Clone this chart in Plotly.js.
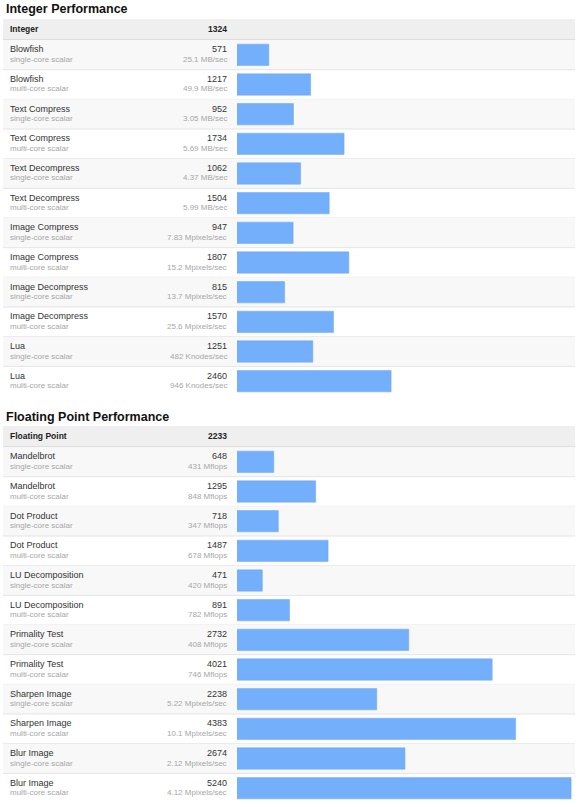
<!DOCTYPE html>
<html>
<head>
<meta charset="utf-8">
<script src="https://cdn.plot.ly/plotly-3.0.1.min.js"></script>
<style>
  html, body { margin: 0; padding: 0; background: #fff; }
  #chart { width: 580px; height: 807px; }
</style>
</head>
<body>
<div id="chart"></div>
<script>
// Benchmark results: two sections of paired single-core / multi-core runs
const intTitle = "Integer Performance";
const intHeader = "Integer";
const intTotal = "1324";
const intNames = ["Blowfish", "Blowfish", "Text Compress", "Text Compress",
  "Text Decompress", "Text Decompress", "Image Compress", "Image Compress",
  "Image Decompress", "Image Decompress", "Lua", "Lua"];
const intModes = ["single-core scalar", "multi-core scalar", "single-core scalar", "multi-core scalar",
  "single-core scalar", "multi-core scalar", "single-core scalar", "multi-core scalar",
  "single-core scalar", "multi-core scalar", "single-core scalar", "multi-core scalar"];
const intScores = [571, 1217, 952, 1734, 1062, 1504, 947, 1807, 815, 1570, 1251, 2460];
const intRates = ["25.1 MB/sec", "49.9 MB/sec", "3.05 MB/sec", "5.69 MB/sec",
  "4.37 MB/sec", "5.99 MB/sec", "7.83 Mpixels/sec", "15.2 Mpixels/sec",
  "13.7 Mpixels/sec", "25.6 Mpixels/sec", "482 Knodes/sec", "946 Knodes/sec"];

const fpTitle = "Floating Point Performance";
const fpHeader = "Floating Point";
const fpTotal = "2233";
const fpNames = ["Mandelbrot", "Mandelbrot", "Dot Product", "Dot Product",
  "LU Decomposition", "LU Decomposition", "Primality Test", "Primality Test",
  "Sharpen Image", "Sharpen Image", "Blur Image", "Blur Image"];
const fpModes = intModes.slice();
const fpScores = [648, 1295, 718, 1487, 471, 891, 2732, 4021, 2238, 4383, 2674, 5240];
const fpRates = ["431 Mflops", "848 Mflops", "347 Mflops", "678 Mflops",
  "420 Mflops", "782 Mflops", "408 Mflops", "746 Mflops",
  "5.22 Mpixels/sec", "10.1 Mpixels/sec", "2.12 Mpixels/sec", "4.12 Mpixels/sec"];

const W = 580, H = 807;
const FONT = "'Liberation Sans', Arial, Helvetica, sans-serif";
const BAR = "#74AFFC";

function fx(p) { return p / W; }
function fy(p) { return 1 - p / H; }

const shapes = [];
const annotations = [];
const traces = [];

// one table block: title, header strip, striped rows with bars
function section(opts) {
  const n = opts.names.length;
  const yref = opts.yref;
  // title
  annotations.push({
    xref: "paper", yref: "paper", x: fx(4), y: fy(opts.titleY),
    xanchor: "left", yanchor: "middle", showarrow: false,
    text: "<b>" + opts.title + "</b>",
    font: { family: FONT, size: 12.5, color: "#111" }
  });
  // header strip
  shapes.push({
    type: "rect", xref: "paper", yref: "paper", layer: "below",
    x0: fx(3), x1: fx(575), y0: fy(opts.headTop), y1: fy(opts.headBottom),
    fillcolor: "#efefef", line: { width: 0 }
  });
  shapes.push({
    type: "line", xref: "paper", yref: "paper", layer: "below",
    x0: fx(3), x1: fx(575), y0: fy(opts.headBottom), y1: fy(opts.headBottom),
    line: { color: "#dedede", width: 1 }
  });
  const hy = fy((opts.headTop + opts.headBottom) / 2);
  annotations.push({
    xref: "paper", yref: "paper", x: fx(8), y: hy, xanchor: "left", yanchor: "middle",
    showarrow: false, text: "<b>" + opts.header + "</b>",
    font: { family: FONT, size: 8.5, color: "#222" }
  });
  annotations.push({
    xref: "paper", yref: "paper", x: fx(229), y: hy, xanchor: "right", yanchor: "middle",
    showarrow: false, text: "<b>" + opts.total + "</b>",
    font: { family: FONT, size: 8.5, color: "#222" }
  });
  // rows
  for (let i = 0; i < n; i++) {
    if (i % 2 === 0) {
      shapes.push({
        type: "rect", xref: "paper", yref: yref, layer: "below",
        x0: fx(3), x1: fx(575), y0: i - 0.5, y1: i + 0.5,
        fillcolor: "#f8f8f8", line: { width: 0 }
      });
    }
    if (i < n - 1) {
      shapes.push({
        type: "line", xref: "paper", yref: yref, layer: "below",
        x0: fx(3), x1: fx(575), y0: i + 0.5, y1: i + 0.5,
        line: { color: "#e4e4e4", width: 1 }
      });
    }
    annotations.push({
      xref: "paper", yref: yref, x: fx(8), y: i, yshift: 5.5,
      xanchor: "left", yanchor: "middle", showarrow: false,
      text: opts.names[i], font: { family: FONT, size: 9, color: "#333" }
    });
    annotations.push({
      xref: "paper", yref: yref, x: fx(8), y: i, yshift: -4.5,
      xanchor: "left", yanchor: "middle", showarrow: false,
      text: opts.modes[i], font: { family: FONT, size: 8, color: "#a6a6a6" }
    });
    annotations.push({
      xref: "paper", yref: yref, x: fx(229), y: i, yshift: 5.5,
      xanchor: "right", yanchor: "middle", showarrow: false,
      text: String(opts.scores[i]), font: { family: FONT, size: 9, color: "#333" }
    });
    annotations.push({
      xref: "paper", yref: yref, x: fx(229), y: i, yshift: -4.5,
      xanchor: "right", yanchor: "middle", showarrow: false,
      text: opts.rates[i], font: { family: FONT, size: 8, color: "#a6a6a6" }
    });
  }
  traces.push({
    type: "bar", orientation: "h",
    x: opts.scores, y: opts.names.map((_, i) => i),
    xaxis: opts.xaxis, yaxis: yref,
    width: 0.72,
    marker: { color: BAR, line: { color: "#6aa5f4", width: 0.5 } },
    hoverinfo: "skip"
  });
}

section({
  title: intTitle, header: intHeader, total: intTotal,
  names: intNames, modes: intModes, scores: intScores, rates: intRates,
  titleY: 9, headTop: 19, headBottom: 39.5, xaxis: "x", yref: "y"
});
section({
  title: fpTitle, header: fpHeader, total: fpTotal,
  names: fpNames, modes: fpModes, scores: fpScores, rates: fpRates,
  titleY: 416.5, headTop: 426, headBottom: 446.5, xaxis: "x2", yref: "y2"
});

const scoreRange = [80, 5300];
const hiddenX = {
  range: scoreRange, domain: [fx(237), fx(575)], fixedrange: true,
  showgrid: false, zeroline: false, showticklabels: false, ticks: "", showline: false
};
const hiddenY = {
  range: [11.5, -0.5], fixedrange: true,
  showgrid: false, zeroline: false, showticklabels: false, ticks: "", showline: false
};

const layout = {
  width: W, height: H,
  margin: { l: 0, r: 0, t: 0, b: 0, pad: 0 },
  paper_bgcolor: "#ffffff",
  plot_bgcolor: "rgba(0,0,0,0)",
  showlegend: false,
  hovermode: false,
  bargap: 0,
  xaxis: Object.assign({}, hiddenX, { anchor: "y" }),
  yaxis: Object.assign({}, hiddenY, { anchor: "x", domain: [fy(396), fy(40)] }),
  xaxis2: Object.assign({}, hiddenX, { anchor: "y2" }),
  yaxis2: Object.assign({}, hiddenY, { anchor: "x2", domain: [fy(803), fy(447)] }),
  shapes: shapes,
  annotations: annotations
};

Plotly.newPlot("chart", traces, layout, { staticPlot: true, displayModeBar: false });
</script>
</body>
</html>
